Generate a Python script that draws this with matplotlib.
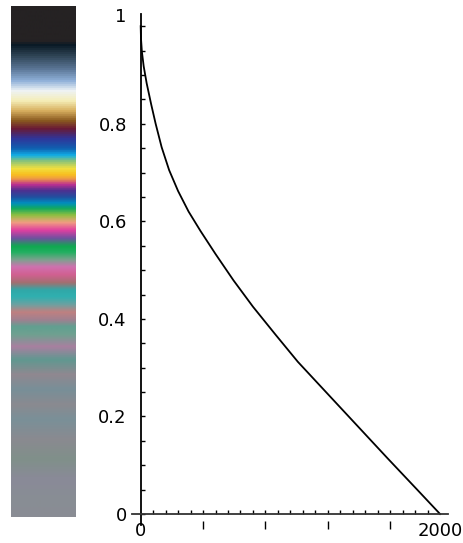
import numpy as np
import matplotlib
matplotlib.use('Agg')
import matplotlib.pyplot as plt
from matplotlib.colors import LinearSegmentedColormap
from matplotlib.ticker import FixedLocator, MultipleLocator

# Curva
x_dati = [0, 2, 8, 20, 40, 70, 100, 140, 190, 250, 320, 400, 500, 620,
          750, 900, 1050, 1250, 1450, 1650, 1850, 2000]
y_dati = [1.0, 0.975, 0.948, 0.918, 0.883, 0.840, 0.800, 0.752, 0.705,
          0.662, 0.620, 0.580, 0.533, 0.479, 0.425, 0.368, 0.312, 0.246,
          0.180, 0.114, 0.049, 0.0]

# Etichette degli assi
y_etich = [0, 0.2, 0.4, 0.6, 0.8, 1.0]
y_testi = ['0', '0.2', '0.4', '0.6', '0.8', '1']
x_etich = [0, 2000]
x_testi = ['0', '2000']

# Barra dei colori (dall'alto in basso): posizione in pixel, colore
barra_pos = [6, 40, 44, 55, 68, 80, 90, 100, 110, 120, 128, 138, 148,
             155, 160, 168, 174, 178, 184, 190, 197, 203, 208, 215, 222,
             230, 238, 246, 252, 260, 267, 275, 283, 290, 297, 305, 312,
             320, 327, 335, 347, 360, 375, 390, 405, 420, 440, 460, 480,
             500, 517]
barra_col = ['#252223', '#252223', '#0a1a25', '#2f4455', '#5a7595',
             '#8fb0d8', '#eef3f5', '#f5eeb8', '#d8b060', '#8a5a20',
             '#6a1a35', '#30359a', '#1060b0', '#10b0e8', '#80c080',
             '#f0e040', '#f8c020', '#f0a040', '#c03090', '#503090',
             '#2050a0', '#0090c0', '#10a860', '#90c040', '#f0a080',
             '#e040a0', '#7050a0', '#10a850', '#20b060', '#80a090',
             '#d070b0', '#d06090', '#a07070', '#30a8a8', '#30b0b0',
             '#70a0a0', '#c08080', '#a08090', '#60a090', '#70a090',
             '#a880a0', '#609890', '#908890', '#788f98', '#8a8a90',
             '#7a9098', '#8a8a90', '#80908a', '#8a8a98', '#888e94',
             '#8a8c94']

fig = plt.figure(figsize=(4.63, 5.43), dpi=100)

# Barra
axb = fig.add_axes([11/463, 26/543, 65/463, 511/543])
p0, p1 = barra_pos[0], barra_pos[-1]
stops = [(p - p0)/(p1 - p0) for p in barra_pos]
cmap = LinearSegmentedColormap.from_list('barra', list(zip(stops, barra_col)))
grad = np.linspace(0, 1, 512).reshape(-1, 1)
axb.imshow(grad, cmap=cmap, aspect='auto', interpolation='bilinear')
axb.axis('off')

# Grafico
ax = fig.add_axes([131.7/463, 18/543, 316.3/463, 511/543])
ax.plot(x_dati, y_dati, color='black', lw=1.3)
ax.set_xlim(-60, 2053)
ax.set_ylim(-0.0225, 1.025)

for s in ['top', 'right']:
    ax.spines[s].set_visible(False)
ax.spines['left'].set_position(('data', 0))
ax.spines['bottom'].set_position(('data', 0))
ax.spines['left'].set_linewidth(1.3)
ax.spines['bottom'].set_linewidth(1.3)
ax.spines['bottom'].set_color('#333333')

ax.yaxis.set_major_locator(FixedLocator(y_etich))
ax.set_yticklabels(y_testi)
ax.yaxis.set_minor_locator(MultipleLocator(0.05))
ax.tick_params(axis='y', which='both', direction='in', length=3,
               width=1, labelsize=13, pad=10)
# l'etichetta "1" sta in cima all'asse
ax.get_yticklabels()[-1].set_va('bottom')

ax.xaxis.set_major_locator(FixedLocator(x_etich))
ax.set_xticklabels(x_testi)
ax.xaxis.set_minor_locator(MultipleLocator(2000/24))
ax.tick_params(axis='x', which='major', length=0, labelsize=13, pad=6)
ax.tick_params(axis='x', which='minor', direction='in', length=3, width=1)

# tacche lunghe sull'asse x
sec = ax.secondary_xaxis(0)
sec.set_xticks([2000/4.8*k for k in range(1, 5)])
sec.tick_params(direction='inout', length=6, width=1, labelbottom=False)
sec.spines['bottom'].set_visible(False)

plt.savefig('out.png', dpi=100)
